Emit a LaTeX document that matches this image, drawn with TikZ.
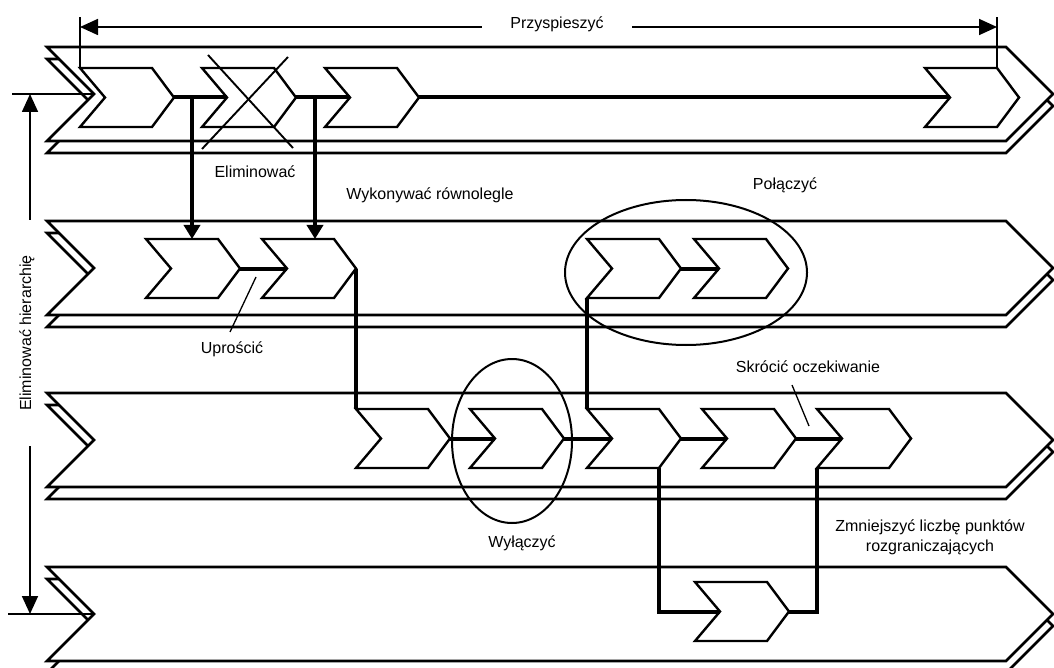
\documentclass[tikz,border=0pt]{standalone}
\usepackage{fontspec}
\setmainfont{Liberation Sans}
\usetikzlibrary{arrows.meta}
\begin{document}
\begin{tikzpicture}[x=1pt,y=-1pt,
  laneline/.style={line width=2.6pt, fill=white},
  taskline/.style={line width=2.4pt, fill=white},
  conn/.style={line width=4pt},
  ring/.style={line width=2pt},
  dimline/.style={line width=1.7pt},
  leader/.style={line width=1.3pt},
  bighead/.style={-{Triangle[length=14pt,width=16pt]}},
  dimheads/.style={{Triangle[length=18pt,width=16pt]}-{Triangle[length=18pt,width=16pt]}},
  lbl/.style={font=\fontsize{16}{20}\selectfont, fill=white, inner sep=3pt, align=center},
  lane/.pic={
    % shadow copy, then the swimlane itself
    \draw[laneline] (0,12) -- (959,12) -- (1006,59) -- (959,106) -- (0,106) -- (47,59) -- cycle;
    \draw[laneline] (0,0) -- (959,0) -- (1006,47) -- (959,94) -- (0,94) -- (47,47) -- cycle;
    \coordinate (-notch) at (47,47);
  },
  task/.pic={
    \draw[taskline] (0,0) -- (72,0) -- (94,29.5) -- (72,59) -- (0,59) -- (25,29.5) -- cycle;
    \coordinate (-tl) at (0,0);
    \coordinate (-tr) at (72,0);
    \coordinate (-tip) at (94,29.5);
    \coordinate (-br) at (72,59);
    \coordinate (-bl) at (0,59);
    \coordinate (-notch) at (25,29.5);
  }]
\useasboundingbox (0,0) rectangle (1054,668);
\clip (0,0) rectangle (1054,668);

% swimlanes
\pic (L1) at (47,47) {lane};
\pic (L2) at (47,221) {lane};
\pic (L3) at (47,393) {lane};
\pic (L4) at (47,567) {lane};

% process steps
\pic (a1) at (80,68) {task};
\pic (a2) at (202,68) {task};
\pic (a3) at (325,68) {task};
\pic (a4) at (925,68) {task};
\pic (b1) at (146,239) {task};
\pic (b2) at (262,239) {task};
\pic (p1) at (587,239) {task};
\pic (p2) at (694,239) {task};
\pic (c1) at (356,409) {task};
\pic (c2) at (470,409) {task};
\pic (c3) at (587,409) {task};
\pic (c4) at (702,409) {task};
\pic (c5) at (817,409) {task};
\pic (d1) at (695,582) {task};

% flow connectors
\draw[conn] (a1-tip) -- (a2-notch);
\draw[conn] (a2-tip) -- (a3-notch);
\draw[conn] (a3-tip) -- (a4-notch);
\coordinate (s1) at (192,97.5);
\coordinate (s2) at (315,97.5);
\draw[conn, bighead] (s1) -- (s1 |- b1-tl);
\draw[conn, bighead] (s2) -- (s2 |- b2-tl);
\draw[conn] (b1-tip) -- (b2-notch);
\draw[conn] (b2-tip) -- (c1-tl);
\draw[conn] (p1-tip) -- (p2-notch);
\draw[conn] (p1-bl) -- (c3-tl);
\draw[conn] (c1-tip) -- (c2-notch);
\draw[conn] (c2-tip) -- (c3-notch);
\draw[conn] (c3-tip) -- (c4-notch);
\draw[conn] (c4-tip) -- (c5-notch);
\draw[conn] (c3-br) -- (c3-br |- d1-notch) -- (d1-notch);
\draw[conn] (d1-tip) -- (d1-tip -| c5-bl) -- (c5-bl);

% crossed-out step
\draw[line width=1.9pt] (208,55) -- (293,148);
\draw[line width=1.9pt] (288,57) -- (202,149);

% groupings
\draw[ring] (512,441) ellipse [x radius=60, y radius=82];
\draw[ring] (686,272.5) ellipse [x radius=121, y radius=72.5];

% top dimension
\coordinate (dy) at (0,27);
\draw[dimline] (a1-tl) -- ++(0,-51);
\draw[dimline] (a4-tr) -- ++(0,-51);
\draw[dimline, dimheads] (a1-tl |- dy) -- (a4-tr |- dy);
\node[lbl, minimum width=150pt] (speed) at (557,24) {Przyspieszyć};

% left dimension
\coordinate (hx) at (30,0);
\draw[dimline] (12,94) -- (L1-notch);
\draw[dimline] (8,614) -- (L4-notch);
\draw[dimline, dimheads] (hx |- L1-notch) -- (hx |- L4-notch);
\node[lbl, rotate=90, minimum width=225pt] (hier) at (27,333) {Eliminować hierarchię};

% leaders
\draw[leader] (230,332) -- (256,277);
\draw[leader] (792,385) -- (809,426);

% labels
\node[lbl] (elim) at (255,172) {Eliminować};
\node[lbl] (par) at (430,195) {Wykonywać równolegle};
\node[lbl] (simp) at (232,349) {Uprościć};
\node[lbl] (join) at (785,185) {Połączyć};
\node[lbl] (wait) at (808,367) {Skrócić oczekiwanie};
\node[lbl] (excl) at (522,543) {Wyłączyć};
\node[lbl] (hand) at (930,537) {Zmniejszyć liczbę punktów\\rozgraniczających};
\end{tikzpicture}
\end{document}
